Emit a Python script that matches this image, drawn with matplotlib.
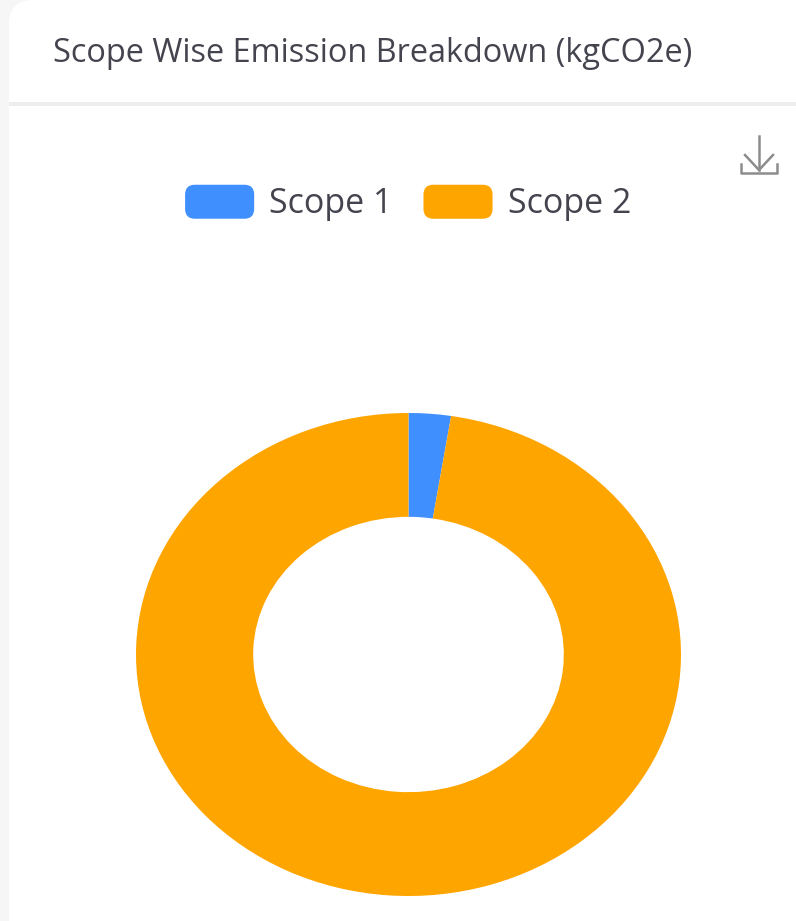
import matplotlib
matplotlib.use("Agg")
import matplotlib.pyplot as plt
from matplotlib.legend_handler import HandlerPatch
from matplotlib.patches import FancyBboxPatch, Rectangle

W, H = 796, 921

title = "Scope Wise Emission Breakdown (kgCO2e)"
labels = ["Scope 1", "Scope 2"]
values = [2.5, 97.5]
colors = ["#408FFF", "#FFA500"]

plt.rcParams["font.family"] = ["Open Sans", "DejaVu Sans"]

fig = plt.figure(figsize=(W / 100, H / 100), dpi=100, facecolor="#f6f6f6")

# card, header and download icon, in pixel coordinates
bg = fig.add_axes([0, 0, 1, 1])
bg.set_xlim(0, W)
bg.set_ylim(H, 0)
bg.axis("off")
bg.add_patch(FancyBboxPatch((9, 0), W + 60, H + 60, boxstyle="round,pad=0,rounding_size=24",
                            fc="white", ec="none"))
bg.add_patch(Rectangle((9, 102), W, 4, fc="#eeeeee", ec="none"))
bg.text(53, 54, title, fontsize=23.4, color="#44444f", va="center", ha="left")

icon = "#8c8c8c"
bg.plot([759, 759], [136, 170], color=icon, lw=1.8)
bg.plot([745, 759, 773], [155, 170, 155], color=icon, lw=1.8)
bg.plot([741, 741, 777, 777], [164, 173, 173, 164], color=icon, lw=1.8)

# donut is stretched: the axes box sets the ellipse, aspect left free
cx, cy, rx, ry = 408.5, 654.5, 272.5, 241.5
ax = fig.add_axes([(cx - rx) / W, 1 - (cy + ry) / H, 2 * rx / W, 2 * ry / H])
wedges, _ = ax.pie(values, colors=colors, startangle=90, counterclock=False, radius=1,
                   wedgeprops=dict(width=0.43, linewidth=0))
ax.set_aspect("auto")
ax.set_xlim(-1, 1)
ax.set_ylim(-1, 1)


def rounded_handle(legend, orig_handle, xdescent, ydescent, width, height, fontsize):
    return FancyBboxPatch((-xdescent + 6, -ydescent + 6), width - 12, height - 12,
                          boxstyle="round,pad=6,rounding_size=7", mutation_aspect=1)


fig.legend(wedges, labels, ncol=2, loc="center", bbox_to_anchor=(408 / W, 1 - 203 / H),
           frameon=False, fontsize=24.5, labelcolor="#44444f",
           handlelength=2.03, handleheight=1.16, handletextpad=0.44, columnspacing=0.91,
           borderpad=0, handler_map={wedges[0]: HandlerPatch(patch_func=rounded_handle),
                                     wedges[1]: HandlerPatch(patch_func=rounded_handle)})

fig.savefig("out.png", dpi=100, facecolor=fig.get_facecolor())
